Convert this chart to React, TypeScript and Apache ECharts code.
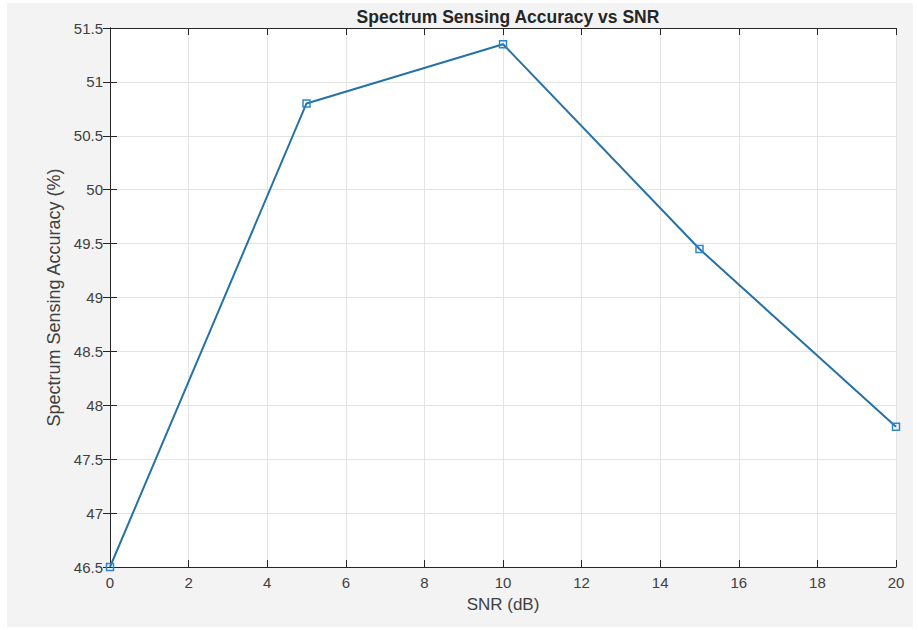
import React, { useEffect, useRef } from "react";
import * as echarts from "echarts";

const snr = [0, 5, 10, 15, 20];
const accuracy = [46.5, 50.8, 51.35, 49.45, 47.8];
const xTicks = [0, 2, 4, 6, 8, 10, 12, 14, 16, 18, 20];
const yTicks = [46.5, 47, 47.5, 48, 48.5, 49, 49.5, 50, 50.5, 51, 51.5];

export default function App() {
  const ref = useRef<HTMLDivElement>(null);
  useEffect(() => {
    const chart = echarts.init(ref.current!, null, { renderer: "svg" });
    const font = "Arial, 'Liberation Sans', Helvetica, sans-serif";
    const axisCommon = {
      axisLine: { show: true, lineStyle: { color: "#262626", width: 1 } },
      axisTick: { show: true, inside: true, length: 7, lineStyle: { color: "#262626", width: 1 } },
    };
    chart.setOption({
      animation: false,
      backgroundColor: "#ffffff",
      graphic: [
        {
          type: "rect",
          z: -10,
          silent: true,
          shape: { x: 7, y: 3, width: 906, height: 624 },
          style: { fill: "#f3f3f3" },
        },
        {
          type: "rect",
          z: -9,
          silent: true,
          shape: { x: 110, y: 28, width: 786, height: 539 },
          style: { fill: "#ffffff" },
        },
      ],
      title: {
        text: "Spectrum Sensing Accuracy vs SNR",
        left: 503,
        textAlign: "center",
        top: 3,
        textStyle: { fontFamily: font, fontSize: 17.5, fontWeight: "bold", color: "#262626" },
      },
      grid: { left: 110, right: 22, top: 28, bottom: 63 },
      xAxis: [
        {
          type: "value",
          min: 0,
          max: 20,
          interval: 2,
          position: "bottom",
          name: "SNR (dB)",
          nameLocation: "middle",
          nameGap: 29,
          nameTextStyle: { fontFamily: font, fontSize: 17, color: "#404040" },
          axisLabel: {
            fontFamily: font,
            fontSize: 15,
            color: "#404040",
            margin: 8,
            formatter: (v: number) => (xTicks.includes(v) ? String(v) : ""),
          },
          splitLine: { show: true, lineStyle: { color: "#e3e3e3", width: 1 } },
          ...axisCommon,
        },
        {
          type: "value",
          min: 0,
          max: 20,
          interval: 2,
          position: "top",
          axisLabel: { show: false },
          splitLine: { show: false },
          ...axisCommon,
        },
      ],
      yAxis: [
        {
          type: "value",
          min: 46.5,
          max: 51.5,
          interval: 0.5,
          position: "left",
          name: "Spectrum Sensing Accuracy (%)",
          nameLocation: "middle",
          nameGap: 43,
          nameTextStyle: { fontFamily: font, fontSize: 18, color: "#404040" },
          axisLabel: {
            fontFamily: font,
            fontSize: 15,
            color: "#404040",
            margin: 7,
            formatter: (v: number) => (yTicks.includes(v) ? String(v) : ""),
          },
          splitLine: { show: true, lineStyle: { color: "#e3e3e3", width: 1 } },
          ...axisCommon,
        },
        {
          type: "value",
          min: 46.5,
          max: 51.5,
          interval: 0.5,
          position: "right",
          axisLabel: { show: false },
          splitLine: { show: false },
          ...axisCommon,
        },
      ],
      series: [
        {
          type: "line",
          data: snr.map((x, i) => [x, accuracy[i]]),
          symbol: "rect",
          symbolSize: 7,
          showSymbol: true,
          lineStyle: { color: "#2671a6", width: 2 },
          itemStyle: { color: "rgba(255,255,255,0)", borderColor: "#2e86c8", borderWidth: 1.5 },
          clip: false,
          z: 5,
        },
      ],
    });
    return () => chart.dispose();
  }, []);
  return <div ref={ref} style={{ position: "absolute", left: 0, top: 0, width: 918, height: 630 }} />;
}
